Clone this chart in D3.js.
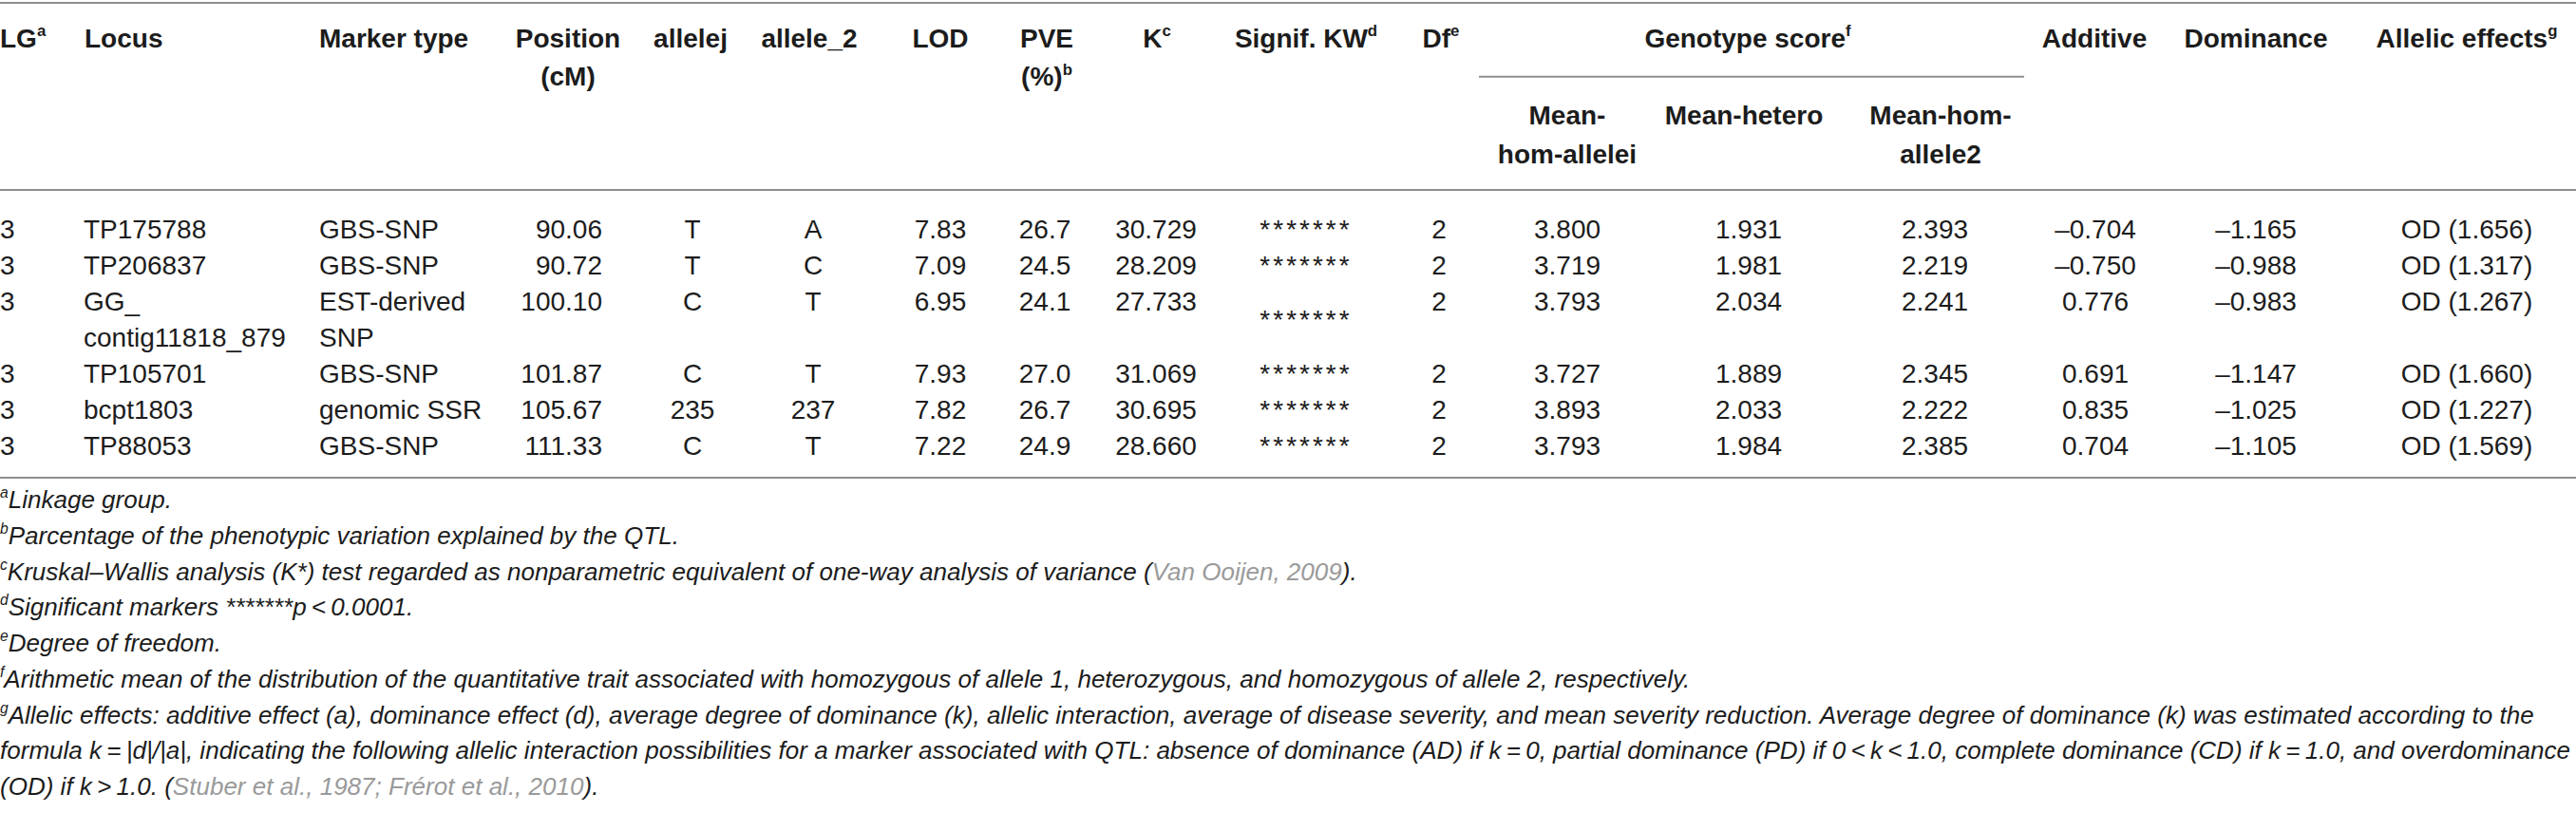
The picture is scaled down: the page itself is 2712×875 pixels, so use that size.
<!DOCTYPE html>
<html>
<head>
<meta charset="utf-8">
<script src="https://cdn.jsdelivr.net/npm/d3@7"></script>
<style>
body { margin: 0; background: #fff; }
text { font-family: "Liberation Sans", Arial, sans-serif; fill: #1c1c1c; }
</style>
</head>
<body>
<div id="table"></div>
<script>
// table values
var lg = [3, 3, 3, 3, 3, 3];
var locus = ["TP175788", "TP206837", "GG_ contig11818_879", "TP105701", "bcpt1803", "TP88053"];
var markerType = ["GBS-SNP", "GBS-SNP", "EST-derived SNP", "GBS-SNP", "genomic SSR", "GBS-SNP"];
var position = [90.06, 90.72, 100.10, 101.87, 105.67, 111.33];
var allele1 = ["T", "T", "C", "C", "235", "C"];
var allele2 = ["A", "C", "T", "T", "237", "T"];
var lod = [7.83, 7.09, 6.95, 7.93, 7.82, 7.22];
var pve = [26.7, 24.5, 24.1, 27.0, 26.7, 24.9];
var kValue = [30.729, 28.209, 27.733, 31.069, 30.695, 28.660];
var signifKW = ["*******", "*******", "*******", "*******", "*******", "*******"];
var df = [2, 2, 2, 2, 2, 2];
var meanHomAllele1 = [3.800, 3.719, 3.793, 3.727, 3.893, 3.793];
var meanHetero = [1.931, 1.981, 2.034, 1.889, 2.033, 1.984];
var meanHomAllele2 = [2.393, 2.219, 2.241, 2.345, 2.222, 2.385];
var additive = [-0.704, -0.750, 0.776, 0.691, 0.835, 0.704];
var dominance = [-1.165, -0.988, -0.983, -1.147, -1.025, -1.105];
var allelicType = ["OD", "OD", "OD", "OD", "OD", "OD"];
var allelicK = [1.656, 1.317, 1.267, 1.660, 1.227, 1.569];

// footnotes: s = superscript, g = grey citation
var footnotes = [
    [{s: "a"}, {t: "Linkage group."}],
    [{s: "b"}, {t: "Parcentage of the phenotypic variation explained by the QTL."}],
    [{s: "c"}, {t: "Kruskal\u2013Wallis analysis (K*) test regarded as nonparametric equivalent of one-way analysis of variance ("}, {g: "Van Ooijen, 2009"}, {t: ")."}],
    [{s: "d"}, {t: "Significant markers *******p\u2009<\u20090.0001."}],
    [{s: "e"}, {t: "Degree of freedom."}],
    [{s: "f"}, {t: "Arithmetic mean of the distribution of the quantitative trait associated with homozygous of allele 1, heterozygous, and homozygous of allele 2, respectively."}],
    [{s: "g"}, {t: "Allelic effects: additive effect (a), dominance effect (d), average degree of dominance (k), allelic interaction, average of disease severity, and mean severity reduction. Average degree of dominance (k) was estimated according to the"}],
    [{t: "formula k\u2009=\u2009|d|/|a|, indicating the following allelic interaction possibilities for a marker associated with QTL: absence of dominance (AD) if k\u2009=\u20090, partial dominance (PD) if 0\u2009<\u2009k\u2009<\u20091.0, complete dominance (CD) if k\u2009=\u20091.0, and overdominance"}],
    [{t: "(OD) if k\u2009>\u20091.0. ("}, {g: "Stuber et al., 1987; Fr\u00e9rot et al., 2010"}, {t: ")."}]
];

var width = 2712, height = 875;
var fs = 28;

var svg = d3.select("#table").append("svg")
    .attr("width", width)
    .attr("height", height);

var f1 = d3.format(".1f"), f2 = d3.format(".2f"), f3 = d3.format(".3f");
function dash(v) { return (v < 0 ? "\u2013" : "") + f3(Math.abs(v)); }

// column setup
var columns = [
    {key: "lg", cells: lg.map(String), x: 0, anchor: "start", hx: 0, hanchor: "start", head: [["LG", {s: "a"}]]},
    {key: "locus", cells: locus, x: 88, anchor: "start", wrap: 235, hx: 89, hanchor: "start", head: [["Locus"]]},
    {key: "marker", cells: markerType, x: 336, anchor: "start", wrap: 195, hx: 336, hanchor: "start", head: [["Marker type"]]},
    {key: "pos", cells: position.map(f2), x: 634, anchor: "end", hx: 598, head: [["Position"], ["(cM)"]]},
    {key: "a1", cells: allele1, x: 729, hx: 727, head: [["allelej"]]},
    {key: "a2", cells: allele2, x: 856, hx: 852, head: [["allele_2"]]},
    {key: "lod", cells: lod.map(f2), x: 990, hx: 990, head: [["LOD"]]},
    {key: "pve", cells: pve.map(f1), x: 1100, hx: 1102, head: [["PVE"], ["(%)", {s: "b"}]]},
    {key: "k", cells: kValue.map(f3), x: 1217, hx: 1218, head: [["K", {s: "c"}]]},
    {key: "kw", cells: signifKW, x: 1375, hx: 1375, middle: true, head: [["Signif. KW", {s: "d"}]]},
    {key: "df", cells: df.map(String), x: 1515, hx: 1517, head: [["Df", {s: "e"}]]},
    {key: "m1", cells: meanHomAllele1.map(f3), x: 1650, hx: 1650, sub: [["Mean-"], ["hom-allelei"]]},
    {key: "mh", cells: meanHetero.map(f3), x: 1841, hx: 1836, sub: [["Mean-hetero"]]},
    {key: "m2", cells: meanHomAllele2.map(f3), x: 2037, hx: 2043, sub: [["Mean-hom-"], ["allele2"]]},
    {key: "add", cells: additive.map(dash), x: 2206, hx: 2205, head: [["Additive"]]},
    {key: "dom", cells: dominance.map(dash), x: 2375, hx: 2375, head: [["Dominance"]]},
    {key: "ae", cells: allelicType.map(function (t, i) { return t + " (" + f3(allelicK[i]) + ")"; }), x: 2597, hx: 2597, head: [["Allelic effects", {s: "g"}]]}
];

var colX = d3.scaleOrdinal().domain(columns.map(function (c) { return c.key; })).range(columns.map(function (c) { return c.x; }));
var headX = d3.scaleOrdinal().domain(columns.map(function (c) { return c.key; })).range(columns.map(function (c) { return c.hx; }));

// measuring helper
var meas = svg.append("text").attr("font-size", fs).attr("visibility", "hidden");
function textW(s) { meas.text(s); return meas.node().getComputedTextLength(); }

function wrapText(s, w) {
    if (!w || textW(s) <= w) return [s];
    var words = s.split(" "), lines = [], cur = "";
    words.forEach(function (wd) {
        var t = cur ? cur + " " + wd : wd;
        if (cur && textW(t) > w) { lines.push(cur); cur = wd; } else cur = t;
    });
    lines.push(cur);
    return lines;
}

// wrap cells, count lines per row
var nRows = lg.length;
var wrapped = columns.map(function (c) { return c.cells.map(function (s) { return wrapText(s, c.wrap); }); });
var rowLines = d3.range(nRows).map(function (r) { return d3.max(wrapped, function (w) { return w[r].length; }); });
var rowStart = [];
rowLines.reduce(function (acc, n, i) { rowStart[i] = acc; return acc + n; }, 0);
var totalLines = d3.sum(rowLines);

var y = d3.scaleLinear().domain([0, totalLines - 1]).range([241, 469]);
var headY = d3.scaleLinear().domain([0, 3]).range([40, 162]);

function rich(g, x, yc, anchor, parts, size, weight) {
    var t = g.append("text")
        .attr("x", x)
        .attr("y", yc + 0.35 * size)
        .attr("text-anchor", anchor)
        .attr("font-size", size)
        .attr("font-weight", weight || null);
    var raised = false;
    parts.forEach(function (p) {
        if (typeof p === "string") p = {t: p};
        if (p.s) {
            t.append("tspan").attr("font-size", size * 0.6).attr("dy", raised ? 0 : -0.42 * size).text(p.s);
            raised = true;
        } else {
            var ts = t.append("tspan").attr("dy", raised ? 0.42 * size : 0).text(p.t || p.g);
            if (p.g) ts.style("fill", "#9a9a9a");
            raised = false;
        }
    });
    return t;
}

// rules
var ruleColor = "#8e8e8e";
[3, 200, 503].forEach(function (yy) {
    svg.append("line").attr("x1", 0).attr("x2", width).attr("y1", yy).attr("y2", yy)
        .attr("stroke", ruleColor).attr("stroke-width", 2);
});
svg.append("line").attr("x1", 1557).attr("x2", 2131).attr("y1", headY(1)).attr("y2", headY(1))
    .attr("stroke", ruleColor).attr("stroke-width", 2);

// header
var head = svg.append("g");
rich(head, 1840, headY(0), "middle", ["Genotype score", {s: "f"}], fs, "bold");
columns.forEach(function (c) {
    var lines = c.head || c.sub, off = c.head ? 0 : 2;
    lines.forEach(function (ln, i) {
        rich(head, headX(c.key), headY(i + off), c.hanchor || "middle", ln, fs, "bold");
    });
});

// body
var body = svg.append("g");
columns.forEach(function (c, ci) {
    d3.range(nRows).forEach(function (r) {
        var lines = wrapped[ci][r];
        var start = rowStart[r];
        if (c.middle) start = rowStart[r] + (rowLines[r] - lines.length) / 2;
        lines.forEach(function (ln, li) {
            var t = body.append("text")
                .attr("x", colX(c.key))
                .attr("y", y(start + li) + 0.35 * fs)
                .attr("text-anchor", c.anchor || "middle")
                .attr("font-size", fs)
                .text(ln);
            if (c.key === "kw") t.attr("letter-spacing", 3);
        });
    });
});

// footnotes
var notes = svg.append("g").attr("font-style", "italic");
var fy = d3.scaleLinear().domain([0, footnotes.length - 1]).range([526, 828]);
var fnSize = 26;
var made = footnotes.map(function (ln, i) {
    return rich(notes, 0, fy(i), "start", ln, fnSize);
});
// fit the widest footnote line to the reference width
var scaleF = 2669 / made[6].node().getComputedTextLength();
notes.selectAll("*").remove();
fnSize = fnSize * scaleF;
footnotes.forEach(function (ln, i) {
    rich(notes, 0, fy(i), "start", ln, fnSize);
});
meas.remove();
</script>
</body>
</html>
